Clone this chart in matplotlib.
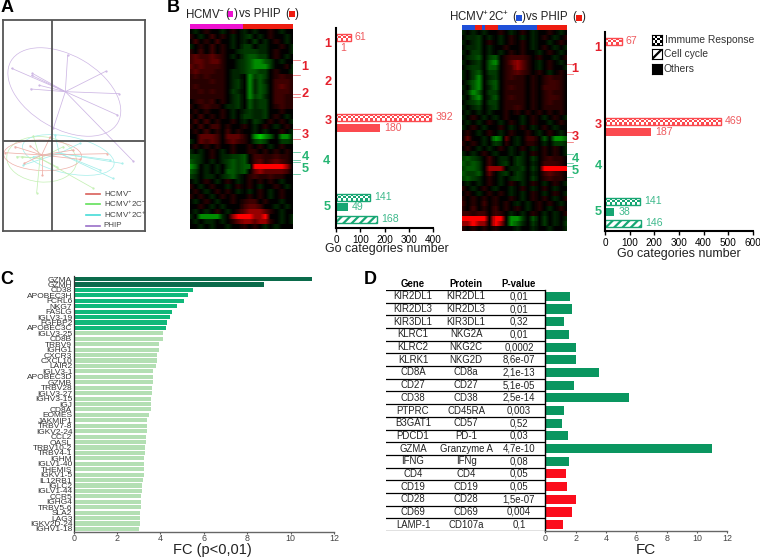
import matplotlib
matplotlib.use('Agg')
import matplotlib.pyplot as plt
import numpy as np
from matplotlib.colors import LinearSegmentedColormap, ListedColormap
from matplotlib.patches import Ellipse
from matplotlib.patches import Rectangle
from matplotlib.lines import Line2D

plt.rcParams['font.family'] = ['Liberation Sans', 'DejaVu Sans']
plt.rcParams['mathtext.default'] = 'regular'
plt.rcParams['hatch.linewidth'] = 1.6

W, H = 760, 557

# ---------- panel A ----------
phip_center = (196, 275)
phip_x = [97, 95, 118, 92, 203, 317, 357, 400, 160, 352, 35]
phip_y = [220, 226, 256, 267, 165, 214, 281, 484, 385, 345, 205]
neg_center = (125, 465)
neg_x = [45, 15, 90, 150, 322, 240, 73, 125, 220]
neg_y = [440, 458, 437, 412, 461, 478, 490, 525, 450]
c2n_center = (120, 475)
c2n_x = [110, 280, 50, 65, 190, 100, 170]
c2n_y = [578, 565, 470, 470, 440, 408, 500]
c2p_center = (178, 460)
c2p_x = [365, 338, 300, 240, 70, 100, 165, 330]
c2p_y = [490, 535, 510, 430, 495, 470, 405, 480]
legend_A = ['HCMV$^{-}$', 'HCMV$^{+}$2C$^{-}$', 'HCMV$^{+}$2C$^{+}$', 'PHIP']

# ---------- panel B heat maps ----------
HM1 = [
 ".a.1..a.1.a.a..1.a..",
 "1.a.2.1.a.ab.a.1..a.",
 ".2.1.2..a.a.b.a.1.a.",
 "a.1.2.1.a.bb.aa..1.a",
 "1.2.2.1..abbbaa.1..a",
 "2322321.a.bccbb.1.a.",
 "2332331..abcddcb.a..",
 "3232221..abcdddb..1a",
 "2322211.aabccbb.1..a",
 "1212111.aa.dbcb.1211",
 "1111211.ab.daca.2221",
 "1211111.ab.dacb.2321",
 "1121211.ba.dacb.2221",
 "1111111.ab.dbca.2211",
 ".1212.1.ab.cabb.2211",
 "1.1211.aab.cabb.1211",
 ".1.1..1.a.abaab..1..",
 "1.2.1.1.a.bbaab.1.a.",
 ".2.2.1..1.a.ba.1.1.a",
 "1.2.22.1..1.a.1.a.1.",
 ".1.2.1.2.1..a.a..1.a",
 "..3332.3331.dedc.dda",
 "a.3232.2321.bcb..bba",
 ".1.1.1..1..1.1.a.1..",
 "a.a.1.a.1..11.1.1.1.",
 "bba.1.aabbc.2211211.",
 "cba.a.abcbc.2312321.",
 "dc.a.a.bcbcc5555554.",
 "cb.a.a.ccbc.3433332.",
 "ba.aa.abca.1211211..",
 ".a.1.a.1.a.1.1.1.a..",
 "1.a.1..a.1.1.a..1.a.",
 ".1.a.1.1.a.a.1.a.1..",
 "1.1.a.1.1..1.1.a.1..",
 ".a.1.a..1.122.1..a..",
 "..1.a.a...2332..a.a.",
 ".a.a.1.a.1344431.a..",
 "a.dddda.4555445..a.a",
 ".a.aa.a.13443441.a.a",
 "..a.a..a..1.1.a.a...",
]
HM2 = [
 "a.a.a..1.a.1.a..1.a.",
 ".aab.a.a.1.a.a.1.a.1",
 "a.ab.1.a.1.1.a..a.1.",
 ".aab.a..1..1.a.1.a.a",
 "a.bb.a.a.1.1..a.1.a.",
 ".abc.bc.12221.1..a.1",
 "a.ab.cd.13431.a.1.a.",
 ".abb.cc.12431.a.1..a",
 "a.bc.bb.12321.1.a.1.",
 "a.bd.ab.1211.1.1211.",
 ".acd.bc.1111.1.1221.",
 "a.cd.ac.1211.1.2221.",
 ".adc.bb.1111.1.1211.",
 "a.cd.ac.1211.1.1221.",
 ".abc.bb.1111.1.1211.",
 "a.ab.ab.1121.1.1111.",
 ".a.a.a..1.1.1.1.1.1.",
 "a.1.a.a.1..a.1.a.1.a",
 ".a.a.1.a.1.a.1..a.1.",
 "a.1.a..1.a.1.a.1.a..",
 ".1.a.1.a.1..1.a.1.a.",
 ".3..a.dc3.a.22.c.ddc",
 "1.1.a.ba1.a.11.a.bba",
 ".1.a.a.1.a.1.a.1.1.a",
 "a.a.1.a..a.a.1.1.1.a",
 "bcba.2.aa.ba.b.1211.",
 "cbcb.2.ab.ba.a.2221.",
 "bccb.444.aab.b.55555",
 "cbbc.3.ab.ba.a.2321.",
 "bcba.1.a.aba.b.1211.",
 ".a.a.1.a.1.a.1.a.1.a",
 "1.a.1.a..a.1.a.1.a..",
 ".1.a.1.1.a.a.1.a.1.a",
 "1.1.1.1..1.a.1.1.a.1",
 "2.1.2.1.1.a.a.1.1.a.",
 "1.2.1.2.1.1.a.1.a.1.",
 "22122.21.a.a.1.a.a.1",
 "55555.55.ddb.c.b.a.a",
 "44544.54.dca.b.b.a.b",
 "1.1.1.1...a..a..a..a",
]
HM1_group = list('M' * 16 + 'R' * 15)
HM2_group = list('BBBB' + 'RR' + 'B' + 'RRRR' + 'B' * 12 + 'R' * 9)

# ---------- panel B bars ----------
B1_vals = [61, 1, 392, 180, 141, 49, 168]
B2_vals = [67, 469, 187, 141, 38, 146]
B1_kinds = ['imm', 'oth', 'imm', 'oth', 'imm', 'oth', 'cyc']
B2_kinds = ['imm', 'imm', 'oth', 'imm', 'oth', 'cyc']
B1_groups = ['r', 'r', 'r', 'r', 'g', 'g', 'g']
B2_groups = ['r', 'r', 'r', 'g', 'g', 'g']
B1_ticks = [0, 100, 200, 300, 400]
B2_ticks = [0, 100, 200, 300, 400, 500, 600]
B_legend = ['Immume Response', 'Cell cycle', 'Others']

# ---------- panel C ----------
C_genes = ['GZMA', 'GZMH', 'CD38', 'APOBEC3H', 'FCRL6', 'NKG7', 'FASLG', 'IGLV3-19', 'FGFBP2', 'APOBEC3C',
           'IGLV3-25', 'CD8B', 'TRBV9', 'IGHG1', 'CXCR3', 'CXCL10', 'LAIR2', 'IGLV3-1', 'APOBEC3D', 'GZMB',
           'TRBV28', 'IGLV3-27', 'IGHV3-15', 'IGJ', 'CD8A', 'EOMES', 'JAKMIP1', 'TRBV7-8', 'IGKV2-24', 'CCL2',
           'OASL', 'TRBV10-2', 'TRBV4-1', 'IGHM', 'IGLV1-40', 'THEMIS', 'IGKV1-5', 'IL12RB1', 'IGLC2', 'IGLV1-44',
           'CCR5', 'IGHG4', 'TRBV5-6', 'SLA2', 'LAG3', 'IGKV2D-24', 'IGHV1-18']
C_fc = [11.0, 8.78, 5.5, 5.25, 5.09, 4.76, 4.51, 4.44, 4.28, 4.25,
        4.13, 4.13, 3.93, 3.93, 3.84, 3.83, 3.79, 3.66, 3.66, 3.65,
        3.6, 3.6, 3.56, 3.56, 3.55, 3.46, 3.36, 3.36, 3.36, 3.35,
        3.35, 3.29, 3.29, 3.26, 3.26, 3.25, 3.25, 3.2, 3.13, 3.13,
        3.12, 3.1, 3.08, 3.05, 3.05, 3.05, 3.02]
C_ticks = [0, 2, 4, 6, 8, 10, 12]

# ---------- panel D ----------
D_gene = ['KIR2DL1', 'KIR2DL3', 'KIR3DL1', 'KLRC1', 'KLRC2', 'KLRK1', 'CD8A', 'CD27', 'CD38', 'PTPRC',
          'B3GAT1', 'PDCD1', 'GZMA', 'IFNG', 'CD4', 'CD19', 'CD28', 'CD69', 'LAMP-1']
D_protein = ['KIR2DL1', 'KIR2DL3', 'KIR3DL1', 'NKG2A', 'NKG2C', 'NKG2D', 'CD8a', 'CD27', 'CD38', 'CD45RA',
             'CD57', 'PD-1', 'Granzyme A', 'IFNg', 'CD4', 'CD19', 'CD28', 'CD69', 'CD107a']
D_p = ['0,01', '0,01', '0,32', '0,01', '0,0002', '8,6e-07', '2,1e-13', '5,1e-05', '2,5e-14', '0,003',
       '0,52', '0,03', '4,7e-10', '0,08', '0,05', '0,05', '1,5e-07', '0,004', '0,1']
D_fc = [1.65, 1.74, 1.23, 1.56, 2.02, 2.02, 3.56, 1.89, 5.54, 1.23,
        1.12, 1.49, 10.99, 1.58, 1.36, 1.43, 2.0, 1.78, 1.14]
D_side = ['g'] * 14 + ['r'] * 5

# ---------- helpers ----------
fig = plt.figure(figsize=(W / 100, H / 100), dpi=100, facecolor='white')


def ax_px(l, t, r, b, **kw):
    return fig.add_axes([l / W, 1 - b / H, (r - l) / W, (b - t) / H], **kw)


def T(x, y, s, size=8, color='black', ha='left', va='center', **kw):
    return fig.text(x / W, 1 - y / H, s, fontsize=size, color=color, ha=ha, va=va, **kw)


def L(x0, y0, x1, y1, color, lw=0.7):
    fig.add_artist(Line2D([x0 / W, x1 / W], [1 - y0 / H, 1 - y1 / H], color=color, lw=lw))


def SQ(x, y, color, s=5.5):
    fig.add_artist(Rectangle(((x - s / 2) / W, 1 - (y + s / 2) / H), s / W, s / H,
                             transform=fig.transFigure, facecolor=color, edgecolor='none'))


RED, GREEN = '#fb4a4f', '#17a673'
RTXT, GTXT = '#ee5a5e', '#3fb98c'
RBIG, GBIG = '#e4202c', '#25b573'

for x, y, s in [(1, 8, 'A'), (167, 8, 'B'), (0, 280, 'C'), (364, 280, 'D')]:
    T(x, y, s, size=13, fontweight='bold')

# ---------- A ----------
a = ax_px(3, 20, 145, 231)
a.set_xlim(9, 435)
a.set_ylim(693, 60)
a.set_xticks([])
a.set_yticks([])
for s in a.spines.values():
    s.set_color('#555555')
    s.set_linewidth(1.3)
groups_A = [
    (c2n_center, c2n_x, c2n_y, '#c4f0b4', (125, 478, 210, 136, 5)),
    (c2p_center, c2p_x, c2p_y, '#a4eeea', (205, 465, 280, 110, 12)),
    (neg_center, neg_x, neg_y, '#eeb0a8', (128, 466, 234, 92, 2)),
    (phip_center, phip_x, phip_y, '#cdb6e4', (193, 276, 370, 220, 30)),
]
for c, xs, ys, col, (ex, ey, ew, eh, ang) in groups_A:
    for xx, yy in zip(xs, ys):
        a.plot([c[0], xx], [c[1], yy], color=col, lw=0.55)
        a.plot([xx], [yy], '.', color=col, ms=1.2)
    a.add_patch(Ellipse((ex, ey), ew, eh, angle=ang, fill=False, edgecolor=col, lw=0.5))
a.axvline(156, color='#555555', lw=1.3)
a.axhline(424, color='#333333', lw=1.1)
for (yy, col, lab) in zip([581, 611, 645, 677], ['#d9605a', '#62e05a', '#45dcd8', '#9a70c8'], legend_A):
    a.plot([257, 300], [yy, yy], color=col, lw=1.2)
    a.text(311, yy, lab, fontsize=5.8, color='#444444', va='center', clip_on=False)

# ---------- B heat maps ----------
levels = {'.': 0, '1': .15, '2': .24, '3': .36, '4': .58, '5': 1.0,
          'a': -.15, 'b': -.24, 'c': -.36, 'd': -.58, 'e': -.85}
cm = LinearSegmentedColormap.from_list('gkr', ['#00f000', '#000000', '#ff0000'])
gcol = {'M': '#ee11d0', 'R': '#ee1c10', 'B': '#2050d8'}


def heat(rows, group, l, t, r, b):
    ax = ax_px(l, t, r, b)
    m = np.array([[levels[ch] for ch in row.ljust(20, '.')[:20]] for row in rows])
    # smooth along the samples only, so that the row stripes stay sharp
    fine = np.linspace(0, m.shape[1] - 1, 100)
    m2 = np.array([np.interp(fine, np.arange(m.shape[1]), row) for row in m])
    ax.imshow(m2, cmap=cm, vmin=-1, vmax=1, aspect='auto', interpolation='nearest')
    ax.axis('off')
    top = ax_px(l, t - 5, r, t)
    for i, g in enumerate(group):
        top.bar(i, 1, width=1, align='edge', color=gcol[g], lw=0)
    top.set_xlim(0, len(group))
    top.set_ylim(0, 1)
    top.axis('off')


heat(HM1, HM1_group, 190, 29, 293, 229)
heat(HM2, HM2_group, 462, 30, 567, 231)

PAL = {'r': (RED, RTXT), 'g': (GREEN, GTXT)}


def checker(ax, x0, x1, y0, y1, nx, ny, col):
    z = np.indices((ny, nx)).sum(axis=0) % 2
    ax.pcolormesh(np.linspace(x0, x1, nx + 1), np.linspace(y0, y1, ny + 1), z,
                  cmap=ListedColormap([col, 'white']), vmin=0, vmax=1, lw=0)


def bars(ax, ys, vals, kinds, groups, px_per, hgt=8):
    for yy, v, k, g in zip(ys, vals, kinds, groups):
        col, tcol = PAL[g]
        if k == 'imm':
            ax.barh(yy, v, height=hgt - 1, facecolor=col, lw=0)
            checker(ax, 0, v, yy - (hgt - 1) / 2, yy + (hgt - 1) / 2, max(2, int(v * px_per / 2.4)), 3, col)
            ax.barh(yy, v, height=hgt - 1, fill=False, edgecolor=col, lw=1)
        elif k == 'cyc':
            ax.barh(yy, v, height=hgt - 1, facecolor='white', edgecolor=col, hatch='////', lw=0)
            ax.barh(yy, v, height=hgt - 1, fill=False, edgecolor=col, lw=1)
        else:
            ax.barh(yy, v, height=hgt, color=col, lw=0)
        ax.annotate(str(v), (v, yy), xytext=(3, 0), textcoords='offset points', fontsize=7.6,
                    color=tcol, va='center')


def bar_axes(l, t, r, b, xmax, ticks):
    ax = ax_px(l, t, r, b)
    ax.set_xlim(0, xmax)
    ax.set_ylim(b, t)
    ax.set_yticks([])
    ax.set_xticks(ticks)
    ax.tick_params(axis='x', labelsize=7.2, length=3, width=1, pad=2)
    for s in ['top', 'right']:
        ax.spines[s].set_visible(False)
    for s in ['left', 'bottom']:
        ax.spines[s].set_linewidth(1.5)
    ax.patch.set_alpha(0)
    return ax


b1 = bar_axes(336, 28, 433, 228, 400, B1_ticks)
bars(b1, [37, 48, 117, 128, 197, 207, 219], B1_vals, B1_kinds, B1_groups, 97 / 400)
b1.set_xlim(0, 400)
b1.set_ylim(228, 28)
b2 = bar_axes(605, 32, 753, 231, 600, B2_ticks)
bars(b2, [41, 121, 132, 201, 212, 223], B2_vals, B2_kinds, B2_groups, 148 / 600)
b2.set_xlim(0, 600)
b2.set_ylim(231, 32)
T(387, 249, 'Go categories number', size=9, ha='center', color='#222222')
T(679, 254, 'Go categories number', size=9, ha='center', color='#222222')

# titles
TS = 8.3
TC = '#222222'
T(185, 14, 'HCMV$^{-}$', size=TS, color=TC)
T(225.5, 14, '(', size=TS, color=TC)
SQ(230.5, 14, '#ee11d0')
T(233.5, 14, ')', size=TS, color=TC)
T(239, 14, 'vs PHIP', size=TS, color=TC)
T(285.5, 14, '(', size=TS, color=TC)
SQ(292, 14, '#ee1c10')
T(295, 14, ')', size=TS, color=TC)
T(449, 17, 'HCMV$^{+}$2C$^{+}$', size=TS, color=TC)
T(512.5, 17, '(', size=TS, color=TC)
SQ(519, 18, '#2050d8')
T(522, 17, ')', size=TS, color=TC)
T(526, 17, 'vs PHIP', size=TS, color=TC)
T(572.5, 17, '(', size=TS, color=TC)
SQ(579, 18, '#ee1c10')
T(582, 17, ')', size=TS, color=TC)

# bracket lines and numbers next to heat maps
for y0, col in [(60, RTXT), (75, RTXT), (94, RTXT), (97, RTXT), (129, RTXT), (139, RTXT),
                (152, GTXT), (160, GTXT), (162, GTXT), (174, GTXT)]:
    L(293, y0, 300, y0, col, 0.5)
for y0, col in [(64, RTXT), (74, RTXT), (132, RTXT), (142, RTXT),
                (154, GTXT), (163, GTXT), (166, GTXT), (177, GTXT)]:
    L(567, y0, 573, y0, col, 0.5)
for x, y, s, c in [(305, 67, '1', RBIG), (305, 94, '2', RBIG), (305, 135, '3', RBIG),
                   (305, 157, '4', GBIG), (305, 169, '5', GBIG),
                   (575, 69, '1', RBIG), (575, 137, '3', RBIG), (575, 159, '4', GBIG), (575, 171, '5', GBIG),
                   (328, 44, '1', RBIG), (328, 82, '2', RBIG), (328, 121, '3', RBIG),
                   (326, 161, '4', GBIG), (327, 207, '5', GBIG),
                   (598, 48, '1', RBIG), (598, 125, '3', RBIG), (598, 166, '4', GBIG), (598, 212, '5', GBIG)]:
    T(x, y, s, size=9.2, color=c, ha='center', fontweight='bold')

# legend of B
for i, (yy, lab, xt) in enumerate(zip([40, 54, 69], B_legend, [665, 664, 664])):
    x0, s = 652, 10
    box = ax_px(x0, yy - s / 2, x0 + s, yy + s / 2)
    box.set_xlim(0, 1)
    box.set_ylim(0, 1)
    box.set_xticks([])
    box.set_yticks([])
    if i == 0:
        checker(box, 0, 1, 0, 1, 4, 4, 'black')
    elif i == 1:
        box.bar(0, 1, width=1, align='edge', facecolor='white', edgecolor='black', hatch='///', lw=0)
    else:
        box.set_facecolor('black')
    box.set_xlim(0, 1)
    box.set_ylim(0, 1)
    for sp in box.spines.values():
        sp.set_linewidth(0.8)
    T(xt, yy, lab, size=7.4, color='#333333')

# ---------- C ----------
c = ax_px(73.7, 276.3, 334, 531.7)
rows = np.arange(len(C_genes))
ccols = ['#0b6b4b'] * 2 + ['#10b87a'] * 8 + ['#b3dfb3'] * 37
c.barh(rows, C_fc, height=0.76, color=ccols, lw=0)
c.set_xlim(0, 12)
c.set_ylim(len(C_genes) - 0.5, -0.5)
c.set_yticks(rows, C_genes)
c.set_xticks(C_ticks)
c.tick_params(axis='y', length=0, pad=1, labelsize=6, labelcolor='#333333')
c.tick_params(axis='x', length=1.5, width=0.8, pad=0.5, labelsize=6.4, labelcolor='#444444', color='#555555')
for s in ['top', 'right']:
    c.spines[s].set_visible(False)
c.spines['left'].set_color('#333333')
c.spines['left'].set_linewidth(0.9)
c.spines['bottom'].set_color('#666666')
c.spines['bottom'].set_linewidth(1)
T(212, 550, 'FC (p<0,01)', size=10.5, ha='center', color='#222222')

# ---------- D ----------
d = ax_px(545.3, 290, 727.3, 531)
r = np.arange(len(D_gene))
d.barh(r, D_fc, height=0.72, color=['#0a9660' if s == 'g' else '#fb0d1c' for s in D_side], lw=0)
d.set_xlim(0, 12)
d.set_ylim(len(D_gene) - 0.5, -0.5)
d.set_yticks([])
d.set_xticks(C_ticks)
d.tick_params(axis='x', length=1.5, width=0.8, pad=1, labelsize=6.4, labelcolor='#444444', color='#555555')
for s in ['top', 'right']:
    d.spines[s].set_visible(False)
d.spines['left'].set_color('black')
d.spines['left'].set_linewidth(1)
d.spines['bottom'].set_color('#666666')
d.spines['bottom'].set_linewidth(1)
T(646, 550, 'FC', size=11, ha='center', color='#222222')

t = ax_px(386, 290, 545.3, 531)
t.set_xlim(386, 545.3)
t.set_ylim(len(D_gene) - 0.5, -0.5)
t.axis('off')
for i in range(len(D_gene)):
    t.axhline(i - 0.5, color='black', lw=0.9)
    t.text(413, i, D_gene[i], ha='center', va='center', fontsize=6.9, color='#222222')
    t.text(466, i, D_protein[i], ha='center', va='center', fontsize=6.9, color='#222222')
    t.text(519, i, D_p[i], ha='center', va='center', fontsize=6.9, color='#222222')
t.axhline(len(D_gene) - 0.5, color='#666666', lw=1)
T(413, 284, 'Gene', size=6.9, ha='center', fontweight='bold')
T(466, 284, 'Protein', size=6.9, ha='center', fontweight='bold')
T(519, 284, 'P-value', size=6.9, ha='center', fontweight='bold')

fig.savefig('out.png', dpi=100)
